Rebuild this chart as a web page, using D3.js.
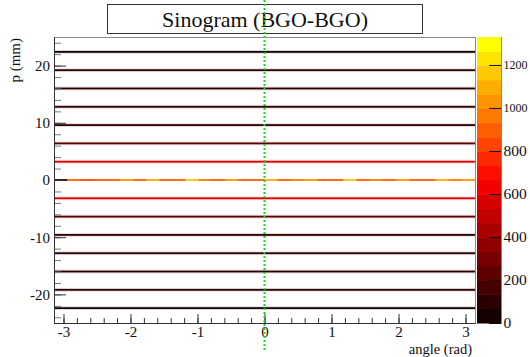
<!DOCTYPE html>
<html>
<head>
<meta charset="utf-8">
<script src="https://cdn.jsdelivr.net/npm/d3@7"></script>
<style>
  html, body { margin: 0; padding: 0; background: #fff; }
  svg { display: block; }
  svg text { font-family: "Liberation Serif", "Times New Roman", Times, "DejaVu Serif", serif; }
</style>
</head>
<body>
<svg id="chart" width="530" height="357"></svg>
<script>
// ── Data ──
const rowP = [-22.4, -19.2, -16, -12.8, -9.6, -6.4, -3.2, 3.2, 6.4, 9.6, 12.8, 16, 19.2, 22.4];
const rowCounts = [60, 90, 80, 110, 130, 250, 560, 560, 240, 130, 110, 80, 90, 60];
// central row (p = 0), counts along angle, 32 bins from -pi to pi
const centerCounts = [120, 880, 860, 930, 900, 1000, 870, 1120, 920, 880, 1150, 950, 900, 1000, 930, 870,
                      1130, 900, 940, 1050, 880, 930, 1160, 900, 980, 870, 1060, 930, 900, 1120, 940, 1000];
const zTicks = [0, 200, 400, 600, 800, 1000, 1200];
const zMax = 1330;
const nLevels = 20;
const xTicks = [-3, -2, -1, 0, 1, 2, 3];
const yTicks = [-20, -10, 0, 10, 20];

// ── Layout ──
const svg = d3.select('#chart');
const L = 54, R = 475, T = 37, B = 323;
const x = d3.scaleLinear().domain([-Math.PI, Math.PI]).range([L, R]);
const y = d3.scaleLinear().domain([-25, 25]).range([B, T]);
const z = d3.scaleLinear().domain([0, zMax]).range([B, T]);
const pal = d3.scaleLinear().domain([0, 0.5, 1]).range(['#140000', '#ff0000', '#ffff00']);
const levelColor = v => {
  const k = Math.min(nLevels - 1, Math.max(0, Math.floor(v / (zMax / nLevels))));
  return pal(k / (nLevels - 1));
};
const fmt = d => String(d);  // plain hyphen minus, like ROOT

svg.append('rect').attr('width', 530).attr('height', 357).attr('fill', '#fff');

// ── Sinogram rows ──
const rowH = 1.8;
const rows = svg.append('g');
rowP.forEach((p, i) => {
  rows.append('rect')
    .attr('x', L).attr('width', R - L)
    .attr('y', y(p) - 2).attr('height', 4)
    .attr('fill', levelColor(rowCounts[i])).attr('opacity', 0.12);
  rows.append('rect')
    .attr('x', L).attr('width', R - L)
    .attr('y', y(p) - rowH / 2).attr('height', rowH)
    .attr('fill', levelColor(rowCounts[i]));
});
const segW = (2 * Math.PI) / centerCounts.length;
rows.selectAll('rect.c').data(centerCounts).join('rect')
  .attr('class', 'c')
  .attr('x', (d, i) => x(-Math.PI + i * segW))
  .attr('width', (d, i) => x(-Math.PI + (i + 1) * segW) - x(-Math.PI + i * segW) + 0.3)
  .attr('y', y(0) - rowH / 2).attr('height', rowH)
  .attr('fill', d => levelColor(d));

// ── Frame ──
svg.append('rect')
  .attr('x', L + 0.5).attr('y', T + 0.5).attr('width', R - L).attr('height', B - T)
  .attr('fill', 'none').attr('stroke', '#8a8a8a').attr('stroke-width', 1);

// ── X axis ──
const xMinor = d3.range(-3.2, 3.21, 0.2).filter(v => Math.abs(v) <= Math.PI);
svg.append('g').attr('transform', `translate(0,${B})`)
  .call(d3.axisBottom(x).tickValues(xMinor).tickSize(-5).tickFormat(''))
  .call(g => g.select('.domain').remove())
  .selectAll('line').attr('stroke', '#333');
const xAx = svg.append('g').attr('transform', `translate(0,${B})`)
  .call(d3.axisBottom(x).tickValues(xTicks).tickSize(-9).tickPadding(3.5).tickFormat(fmt));
xAx.attr('font-family', null);
xAx.select('.domain').attr('d', `M${L},0.5H${R + 1}`).attr('stroke', '#333');
xAx.selectAll('line').attr('stroke', '#333');
xAx.selectAll('text').attr('font-size', 15).attr('fill', '#111');

// ── Y axis ──
const yMinor = d3.range(-24, 25, 2);
svg.append('g').attr('transform', `translate(${L},0)`)
  .call(d3.axisLeft(y).tickValues(yMinor).tickSize(-7).tickFormat(''))
  .call(g => g.select('.domain').remove())
  .selectAll('line').attr('stroke', '#777');
const yAx = svg.append('g').attr('transform', `translate(${L},0)`)
  .call(d3.axisLeft(y).tickValues(yTicks).tickSize(-12).tickPadding(4).tickFormat(fmt));
yAx.attr('font-family', null);
yAx.select('.domain').attr('d', `M0.5,${T}V${B + 1}`).attr('stroke', '#333');
yAx.selectAll('line').attr('stroke', '#333');
yAx.selectAll('text').attr('font-size', 15).attr('fill', '#111');

// ── Axis titles ──
svg.append('text')
  .attr('x', 472).attr('y', 353.5).attr('text-anchor', 'end')
  .attr('font-size', 14.5).attr('fill', '#111')
  .text('angle (rad)');
svg.append('text')
  .attr('transform', 'translate(20,38) rotate(-90)')
  .attr('text-anchor', 'end')
  .attr('font-size', 15).attr('fill', '#111')
  .text('p (mm)');

// ── Colour palette ──
const PL = 477, PR = 501;
const band = zMax / nLevels;
svg.append('g').selectAll('rect').data(d3.range(nLevels)).join('rect')
  .attr('x', PL).attr('width', PR - PL)
  .attr('y', k => z((k + 1) * band)).attr('height', k => z(k * band) - z((k + 1) * band) + 0.5)
  .attr('fill', k => pal(k / (nLevels - 1)));
svg.append('line')
  .attr('x1', PR + 0.5).attr('x2', PR + 0.5).attr('y1', T).attr('y2', B + 1)
  .attr('stroke', '#888');
const zAx = svg.append('g').attr('transform', `translate(${PR},0)`)
  .call(d3.axisRight(z).tickValues(zTicks).tickSize(-12).tickPadding(2.5).tickFormat(fmt));
zAx.attr('font-family', null);
zAx.select('.domain').remove();
zAx.selectAll('line').attr('stroke', '#111');
zAx.selectAll('text').attr('font-size', 15.5).attr('fill', '#111');
// four-digit labels squeezed so they stay inside the 530 px canvas
zAx.selectAll('text').filter(d => d >= 1000)
  .attr('font-size', 12.5)
  .attr('textLength', 24).attr('lengthAdjust', 'spacingAndGlyphs');

// ── Title box ──
svg.append('rect')
  .attr('x', 107.5).attr('y', 4.5).attr('width', 315).attr('height', 29)
  .attr('fill', '#fff').attr('stroke', '#333');
svg.append('text')
  .attr('x', 265).attr('y', 27).attr('text-anchor', 'middle')
  .attr('font-size', 22).attr('fill', '#111')
  .text('Sinogram (BGO-BGO)');

// ── Green dotted marker at angle 0 ──
svg.append('line')
  .attr('x1', x(0)).attr('x2', x(0)).attr('y1', 0).attr('y2', 350)
  .attr('stroke', '#22cc22').attr('stroke-width', 2).attr('stroke-dasharray', '2,2');
</script>
</body>
</html>
